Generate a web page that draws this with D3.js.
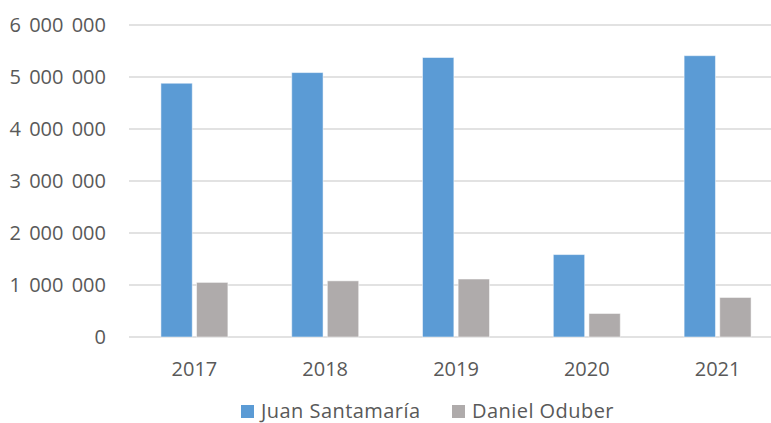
<!DOCTYPE html>
<html>
<head>
<meta charset="utf-8"/>
<script src="https://d3js.org/d3.v7.min.js"></script>
<style>
  body { margin: 0; background: #fff; }
  text { font-family: "Open Sans", sans-serif; fill: #595959; }
</style>
</head>
<body>
<div id="chart"></div>
<script>
var years = ["2017", "2018", "2019", "2020", "2021"];
var seriesNames = ["Juan Santamaría", "Daniel Oduber"];
var juanSantamaria = [4880000, 5085000, 5375000, 1585000, 5410000];
var danielOduber = [1050000, 1080000, 1115000, 452000, 760000];
var yTicks = [0, 1000000, 2000000, 3000000, 4000000, 5000000, 6000000];
var colors = ["#5b9bd5", "#afabab"];

var W = 771, H = 423;
var margin = {top: 25, right: -12, bottom: 86, left: 129};
var width = W - margin.left - margin.right,
    height = H - margin.top - margin.bottom;

var svg = d3.select("#chart").append("svg").attr("width", W).attr("height", H);
var g = svg.append("g").attr("transform", "translate(" + margin.left + "," + margin.top + ")");

var x = d3.scaleBand().domain(years).range([0, width]).paddingInner(0.488).paddingOuter(0.244);
var xInner = d3.scaleBand().domain([0, 1]).range([0, x.bandwidth()]).paddingInner(0.12);
var y = d3.scaleLinear().domain([0, 6000000]).range([height, 0]);

var fmt = function(v) { return d3.format(",")(v).replace(/,/g, " "); };

// gridlines
g.selectAll(".grid").data(yTicks).enter().append("line")
  .attr("x1", 0).attr("x2", width)
  .attr("y1", function(d) { return y(d); }).attr("y2", function(d) { return y(d); })
  .style("stroke", "#d9d9d9").style("stroke-width", "1.5px");

// y labels
g.selectAll(".ylab").data(yTicks).enter().append("text")
  .attr("x", -23).attr("y", function(d) { return y(d); }).attr("dy", "0.36em")
  .attr("text-anchor", "end").style("font-size", "20px").style("word-spacing", "3px")
  .text(fmt);

var data = years.map(function(yr, i) { return {year: yr, vals: [juanSantamaria[i], danielOduber[i]]}; });

var groups = g.selectAll(".grp").data(data).enter().append("g")
  .attr("transform", function(d) { return "translate(" + x(d.year) + ",0)"; });

groups.selectAll("rect").data(function(d) { return d.vals; }).enter().append("rect")
  .attr("x", function(d, i) { return xInner(i); })
  .attr("width", xInner.bandwidth())
  .attr("y", function(d) { return y(d); })
  .attr("height", function(d) { return height - y(d); })
  .style("fill", function(d, i) { return colors[i]; })
  .style("stroke", "#fff").style("stroke-opacity", 0.5).style("stroke-width", "1px");

// x labels
g.selectAll(".xlab").data(years).enter().append("text")
  .attr("x", function(d) { return x(d) + x.bandwidth() / 2; })
  .attr("y", height + 39)
  .attr("text-anchor", "middle").style("font-size", "20px")
  .text(function(d) { return d; });

// legend
var legendX = [241, 452];
var legend = svg.selectAll(".leg").data(seriesNames).enter().append("g")
  .attr("transform", function(d, i) { return "translate(" + legendX[i] + ",405)"; });
legend.append("rect").attr("width", 13).attr("height", 13)
  .style("fill", function(d, i) { return colors[i]; });
legend.append("text").attr("x", 20).attr("y", 12.5).style("font-size", "20px")
  .style("letter-spacing", "0.45px")
  .text(function(d) { return d; });
</script>
</body>
</html>
